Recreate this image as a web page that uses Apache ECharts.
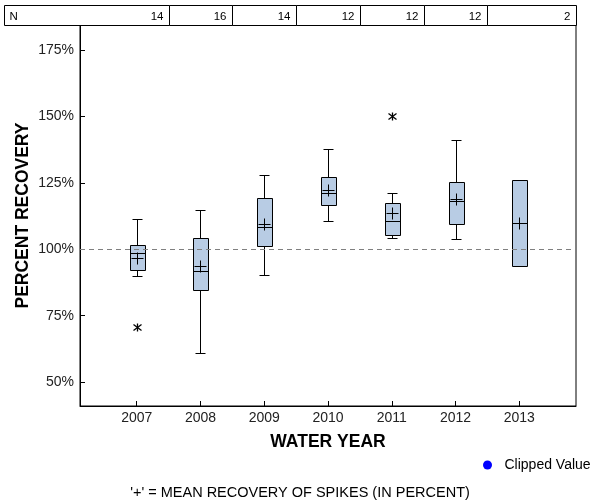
<!DOCTYPE html>
<html><head><meta charset="utf-8">
<script src="https://cdn.jsdelivr.net/npm/echarts@6/dist/echarts.min.js"></script>
<style>html,body{margin:0;padding:0;background:#fff}#c{width:600px;height:500px}</style>
</head><body><div id="c"></div>
<script>
// ---- data ----
const years = [2007, 2008, 2009, 2010, 2011, 2012, 2013];
const nCounts = [14, 16, 14, 12, 12, 12, 2];
const lowWhisker = [89.9, 60.8, 90.3, 110.6, 104.2, 103.7, null];
const q1 = [92.2, 84.6, 101.2, 116.5, 105.2, 109.4, 93.6];
const medians = [98.7, 91.8, 108.4, 121.0, 110.5, 118.0, 109.8];
const q3 = [101.6, 104.3, 119.4, 127.1, 117.3, 125.2, 125.9];
const highWhisker = [111.4, 114.9, 128.1, 137.6, 121.0, 141.0, null];
const means = [96.8, 93.6, 109.5, 122.2, 113.8, 118.8, 109.8];
const outlierYears = [2007, 2011];
const outlierValues = [70.6, 150.2];
const yTicks = [50, 75, 100, 125, 150, 175];
const refValue = 100;

const FONT = 'Arial, "Liberation Sans", sans-serif';
const BOX_FILL = '#B8CCE4';

function crisp(v) { return Math.round(v) + 0.5; }

function renderBox(params, api) {
  const x = api.value(0);
  const lo = api.value(1), a = api.value(2), m = api.value(3), b = api.value(4), hi = api.value(5), mean = api.value(6);
  const cx = crisp(api.coord([x, a])[0]);
  const yA = crisp(api.coord([x, a])[1]);
  const yB = crisp(api.coord([x, b])[1]);
  const yM = crisp(api.coord([x, m])[1]);
  const yMean = crisp(api.coord([x, mean])[1]);
  const ls = { stroke: '#000', lineWidth: 1 };
  const children = [];
  if (!isNaN(hi)) {
    const yHi = crisp(api.coord([x, hi])[1]);
    children.push({ type: 'line', shape: { x1: cx, y1: yB, x2: cx, y2: yHi }, style: ls });
    children.push({ type: 'line', shape: { x1: cx - 5, y1: yHi, x2: cx + 5, y2: yHi }, style: ls });
  }
  if (!isNaN(lo)) {
    const yLo = crisp(api.coord([x, lo])[1]);
    children.push({ type: 'line', shape: { x1: cx, y1: yA, x2: cx, y2: yLo }, style: ls });
    children.push({ type: 'line', shape: { x1: cx - 5, y1: yLo, x2: cx + 5, y2: yLo }, style: ls });
  }
  children.push({ type: 'rect', shape: { x: cx - 7, y: yB, width: 15, height: yA - yB }, style: { fill: BOX_FILL, stroke: '#000', lineWidth: 1 } });
  children.push({ type: 'line', shape: { x1: cx - 7, y1: yM, x2: cx + 8, y2: yM }, style: ls });
  children.push({ type: 'line', shape: { x1: cx - 6, y1: yMean, x2: cx + 6, y2: yMean }, style: ls });
  children.push({ type: 'line', shape: { x1: cx, y1: yMean - 6, x2: cx, y2: yMean + 6 }, style: ls });
  return { type: 'group', children };
}

function renderOutlier(params, api) {
  const p = api.coord([api.value(0), api.value(1)]);
  const cx = crisp(p[0]), cy = crisp(p[1]);
  const ls = { stroke: '#000', lineWidth: 1.3 };
  return { type: 'group', children: [
    { type: 'line', shape: { x1: cx, y1: cy - 4, x2: cx, y2: cy + 4 }, style: ls },
    { type: 'line', shape: { x1: cx - 4, y1: cy - 3, x2: cx + 4, y2: cy + 3 }, style: ls },
    { type: 'line', shape: { x1: cx - 4, y1: cy + 3, x2: cx + 4, y2: cy - 3 }, style: ls }
  ] };
}

function renderTable(params, api) {
  const cs = params.coordSys;
  const x = api.value(0);
  const idx = params.dataIndex;
  const last = params.dataInsideLength - 1;
  const left = idx === 0 ? 4.5 : crisp(api.coord([x - 0.5, 0])[0]);
  const right = idx === last ? crisp(cs.x + cs.width) : crisp(api.coord([x + 0.5, 0])[0]);
  const bottom = crisp(cs.y);
  const top = bottom - 20;
  const children = [
    { type: 'rect', shape: { x: left, y: top, width: right - left, height: bottom - top }, style: { fill: '#fff', stroke: '#000', lineWidth: 1 } },
    { type: 'text', style: { text: String(api.value(1)), x: right - 6, y: (top + bottom) / 2 + 1, align: 'right', verticalAlign: 'middle', font: '11.5px ' + FONT, fill: '#000' } }
  ];
  if (idx === 0) {
    children.push({ type: 'text', style: { text: 'N', x: left + 5, y: (top + bottom) / 2 + 1, align: 'left', verticalAlign: 'middle', font: '11.5px ' + FONT, fill: '#000' } });
  }
  return { type: 'group', children };
}

const chart = echarts.init(document.getElementById('c'), null, { renderer: 'canvas' });
chart.setOption({
  animation: false,
  backgroundColor: '#fff',
  textStyle: { fontFamily: FONT },
  grid: { left: 80, right: 24, top: 25, bottom: 94, show: true, borderColor: '#000', borderWidth: 1, backgroundColor: 'transparent' },
  legend: {
    left: 483, top: 458, padding: 0,
    itemWidth: 24, itemHeight: 9,
    textStyle: { fontSize: 14, color: '#000', fontFamily: FONT },
    itemStyle: { opacity: 1 },
    data: [{ name: 'Clipped Value', icon: 'circle', itemStyle: { color: '#0000FF', opacity: 1 } }]
  },
  xAxis: {
    type: 'value', min: 2006.11, max: 2013.89,
    name: 'WATER YEAR', nameLocation: 'middle', nameGap: 27, nameMoveOverlap: false,
    nameTextStyle: { fontSize: 17.5, fontWeight: 'bold', color: '#000', fontFamily: FONT },
    axisLine: { show: true, lineStyle: { color: '#000' } },
    axisTick: { show: true, inside: true, length: 5, lineStyle: { color: '#000' }, customValues: years },
    axisLabel: { show: true, margin: 5, fontSize: 14, color: '#222', customValues: years, formatter: v => String(v) },
    splitLine: { show: false }
  },
  yAxis: {
    type: 'value', min: 41, max: 184.4,
    name: 'PERCENT RECOVERY', nameLocation: 'middle', nameGap: 48, nameRotate: 90, nameMoveOverlap: false,
    nameTextStyle: { fontSize: 17.5, fontWeight: 'bold', color: '#000', fontFamily: FONT },
    axisLine: { show: true, lineStyle: { color: '#000' } },
    axisTick: { show: true, inside: true, length: 5, lineStyle: { color: '#000' }, customValues: yTicks },
    axisLabel: { show: true, margin: 6, fontSize: 14, color: '#222', customValues: yTicks, formatter: v => v + '%' },
    splitLine: { show: false }
  },
  graphic: [
    { type: 'text', left: 'center', top: 485, style: { text: "'+' = MEAN RECOVERY OF SPIKES (IN PERCENT)", font: '14.5px ' + FONT, fill: '#000' } }
  ],
  series: [
    {
      type: 'custom', name: 'table', clip: false, silent: true,
      renderItem: renderTable,
      data: years.map((y, i) => [y, nCounts[i]]),
      z: 5
    },
    {
      type: 'custom', name: 'boxes', renderItem: renderBox,
      data: years.map((y, i) => [y, lowWhisker[i], q1[i], medians[i], q3[i], highWhisker[i], means[i]]),
      markLine: {
        silent: true, symbol: 'none', label: { show: false },
        lineStyle: { color: '#808080', type: [5, 4], width: 1 },
        data: [{ yAxis: refValue }]
      },
      z: 3
    },
    {
      type: 'custom', name: 'outliers', renderItem: renderOutlier,
      data: outlierYears.map((y, i) => [y, outlierValues[i]]), z: 4
    },
    {
      type: 'scatter', name: 'Clipped Value', data: [], itemStyle: { color: '#0000FF', opacity: 1 }
    }
  ]
});
</script>
</body></html>
